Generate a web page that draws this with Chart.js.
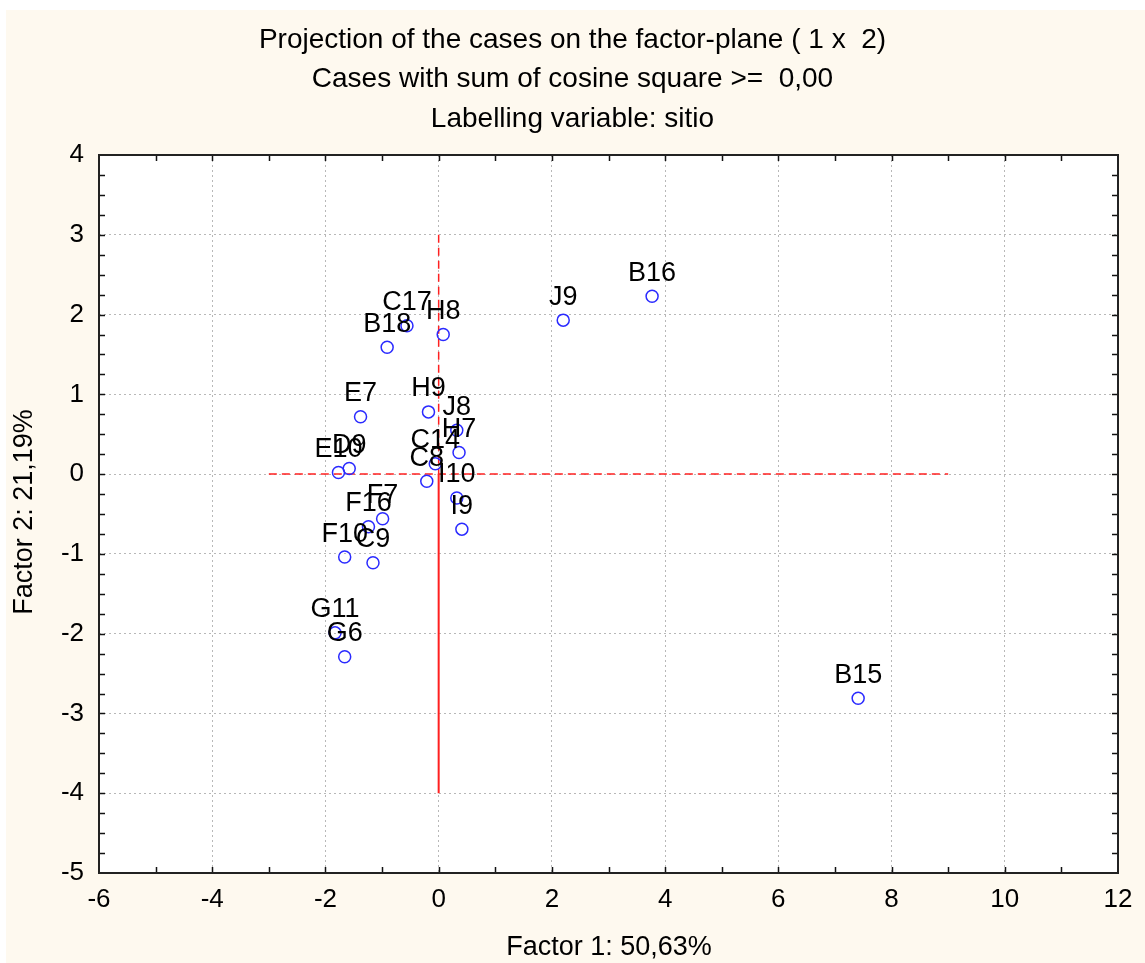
<!DOCTYPE html>
<html>
<head>
<meta charset="utf-8">
<script src="https://cdn.jsdelivr.net/npm/chart.js@4.4.1/dist/chart.umd.min.js"></script>
<style>
  html, body { margin: 0; padding: 0; background: #ffffff; }
  #chart { display: block; }
</style>
</head>
<body>
<canvas id="chart" width="1145" height="963"></canvas>
<script>
// case labels and factor scores
const cases = ["B16", "J9", "B15", "H8", "C17", "B18", "E7", "H9", "J8", "H7", "D9",
  "E10", "C14", "C8", "I10", "I9", "F7", "F16", "C9", "F10", "G11", "G6"];
const factor1 = [3.77, 2.20, 7.41, 0.08, -0.56, -0.91, -1.38, -0.18, 0.32, 0.36, -1.58,
  -1.77, -0.06, -0.21, 0.32, 0.41, -0.99, -1.24, -1.16, -1.66, -1.83, -1.66];
const factor2 = [2.23, 1.93, -2.81, 1.75, 1.86, 1.59, 0.72, 0.78, 0.55, 0.27, 0.07,
  0.02, 0.13, -0.09, -0.30, -0.69, -0.56, -0.66, -1.11, -1.04, -1.99, -2.29];

const titleLines = [
  "Projection of the cases on the factor-plane ( 1 x  2)",
  "Cases with sum of cosine square >=  0,00",
  "Labelling variable: sitio"
];
const xTitle = "Factor 1: 50,63%";
const yTitle = "Factor 2: 21,19%";

// axis ranges and the red origin lines
const xRange = [-6, 12];
const yRange = [-5, 4];
const hLine = [-3, 9];       // y = 0, dashed
const vLineDashed = [3, 0];  // x = 0, dashed part
const vLineSolid = [0, -4];  // x = 0, solid part

const FONT = "Arial, 'Liberation Sans', sans-serif";

const points = cases.map((c, i) => ({ x: factor1[i], y: factor2[i], label: c }));

const decorPlugin = {
  id: "decor",
  beforeDraw(chart) {
    const { ctx, chartArea: a } = chart;
    ctx.save();
    ctx.fillStyle = "#fef9ef";
    ctx.fillRect(6, 10, chart.width - 6, chart.height - 10);
    ctx.fillStyle = "#ffffff";
    ctx.fillRect(a.left, a.top, a.right - a.left, a.bottom - a.top);
    ctx.restore();
  },
  afterDraw(chart) {
    const { ctx, chartArea: a } = chart;
    const xs = chart.scales.x, ys = chart.scales.y;
    ctx.save();
    // inward tick marks on all four sides
    ctx.strokeStyle = "#111";
    ctx.lineWidth = 1.5;
    ctx.beginPath();
    for (let v = xRange[0] + 1; v < xRange[1]; v += 1) {
      const px = Math.round(xs.getPixelForValue(v)) + 0.5;
      ctx.moveTo(px, a.bottom); ctx.lineTo(px, a.bottom - 6);
      ctx.moveTo(px, a.top); ctx.lineTo(px, a.top + 6);
    }
    for (let v = yRange[0] + 0.25; v < yRange[1]; v += 0.25) {
      const py = Math.round(ys.getPixelForValue(v)) + 0.5;
      ctx.moveTo(a.left, py); ctx.lineTo(a.left + 6, py);
      ctx.moveTo(a.right, py); ctx.lineTo(a.right - 6, py);
    }
    ctx.stroke();
    // frame
    ctx.strokeStyle = "#222";
    ctx.lineWidth = 2;
    ctx.strokeRect(a.left, a.top, a.right - a.left, a.bottom - a.top);

    // case labels above each point
    ctx.fillStyle = "#000";
    ctx.font = "27px " + FONT;
    ctx.textAlign = "center";
    ctx.textBaseline = "middle";
    const meta = chart.getDatasetMeta(0);
    meta.data.forEach((el, i) => {
      ctx.fillText(points[i].label, el.x, el.y - 23);
    });

    // titles
    ctx.font = "28px " + FONT;
    titleLines.forEach((t, i) => ctx.fillText(t, chart.width / 2, 40 + i * 39.5));
    ctx.font = "27px " + FONT;
    ctx.fillText(xTitle, 609, 948);
    ctx.translate(25, 512);
    ctx.rotate(-Math.PI / 2);
    ctx.fillText(yTitle, 0, 0);
    ctx.restore();
  }
};

new Chart(document.getElementById("chart"), {
  type: "scatter",
  data: {
    datasets: [
      {
        data: points,
        pointStyle: "circle",
        pointRadius: 6,
        pointBorderWidth: 1.5,
        borderColor: "#2a2aff",
        backgroundColor: "rgba(0,0,0,0)",
        order: 0
      },
      {
        data: hLine.map(x => ({ x: x, y: 0 })),
        showLine: true,
        borderColor: "#ff2020",
        borderWidth: 1.5,
        borderDash: [8, 5],
        pointRadius: 0,
        order: 1
      },
      {
        data: vLineDashed.map(y => ({ x: 0, y: y })),
        showLine: true,
        borderColor: "#ff2020",
        borderWidth: 1.5,
        borderDash: [8, 5],
        pointRadius: 0,
        order: 1
      },
      {
        data: vLineSolid.map(y => ({ x: 0, y: y })),
        showLine: true,
        borderColor: "#ff2020",
        borderWidth: 2,
        pointRadius: 0,
        order: 1
      }
    ]
  },
  options: {
    responsive: false,
    devicePixelRatio: 1,
    animation: false,
    layout: { padding: { top: 155, right: 27, left: 0, bottom: 0 } },
    plugins: {
      legend: { display: false },
      tooltip: { enabled: false },
      title: { display: false }
    },
    scales: {
      x: {
        type: "linear",
        min: xRange[0],
        max: xRange[1],
        afterFit(scale) { scale.height = 90; },
        border: { display: false, dash: [2, 3] },
        grid: {
          drawTicks: false,
          color: "#b8b8b8",
          lineWidth: 1
        },
        ticks: {
          stepSize: 2,
          padding: 11,
          color: "#000",
          font: { family: FONT, size: 26 }
        }
      },
      y: {
        type: "linear",
        min: yRange[0],
        max: yRange[1],
        afterFit(scale) { scale.width = 99; },
        border: { display: false, dash: [2, 3] },
        grid: {
          drawTicks: false,
          color: "#b8b8b8",
          lineWidth: 1
        },
        ticks: {
          stepSize: 1,
          padding: 15,
          color: "#000",
          font: { family: FONT, size: 26 }
        }
      }
    }
  },
  plugins: [decorPlugin]
});
</script>
</body>
</html>
